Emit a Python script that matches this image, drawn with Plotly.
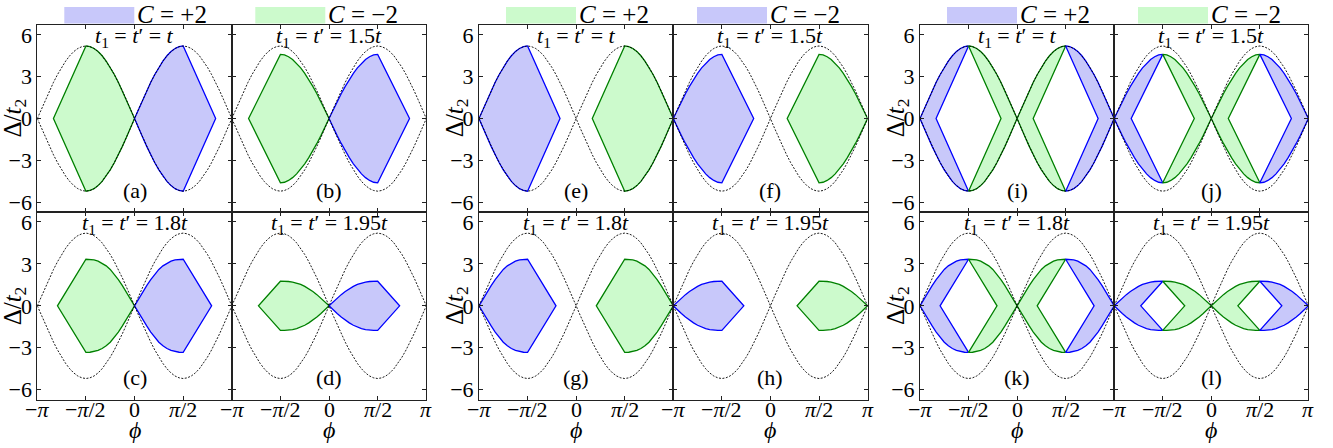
import numpy as np
import plotly.graph_objects as go

# boundary heights Delta/t2 at phi = k*pi/24, k = 0..12 (one quarter period)
dashed_profile = [0.0, 0.68, 1.34, 1.99, 2.60, 3.16, 3.67, 4.12, 4.50, 4.80, 5.02, 5.15, 5.20]
profile_t100 = [0.0, 0.68, 1.34, 1.99, 2.60, 3.16, 3.67, 4.12, 4.50, 4.80, 5.02, 5.15, 5.20]
profile_t150 = [0.0, 0.62, 1.22, 1.78, 2.31, 2.80, 3.24, 3.63, 3.96, 4.23, 4.43, 4.56, 4.60]
profile_t180 = [0.0, 0.50, 0.98, 1.44, 1.88, 2.27, 2.60, 2.86, 3.05, 3.19, 3.28, 3.32, 3.33]
profile_t195 = [0.0, 0.28, 0.55, 0.80, 1.02, 1.22, 1.39, 1.53, 1.63, 1.70, 1.74, 1.76, 1.76]

hopping_labels = ["t", "1.5t", "1.8t", "1.95t"]
profiles = [profile_t100, profile_t150, profile_t180, profile_t195]
# where the straight edges meet Delta = 0, measured from the curved tip
far_span = [2.62, 2.60, 2.49, 2.28]
near_span = [0.52, 0.55, 0.65, 0.86]

panel_letters = [["a", "b", "c", "d"], ["e", "f", "g", "h"], ["i", "j", "k", "l"]]
legend_items = [[("blue", "+2"), ("green", "−2")],
                [("green", "+2"), ("blue", "−2")],
                [("blue", "+2"), ("green", "−2")]]

phi_ticks = [-np.pi, -np.pi / 2, 0, np.pi / 2, np.pi]
phi_ticktext = ["−<i>π</i>", "−<i>π</i>/2", "0", "<i>π</i>/2", "<i>π</i>"]
delta_ticks = [-6, -3, 0, 3, 6]
delta_ticktext = ["−6", "−3", "0", "3", "6"]

LINE = {"blue": "#0000ff", "green": "#008000"}
FILL = {"blue": "#c8c8fa", "green": "#ccfacc"}
FONT = "Liberation Serif, Times New Roman, serif"

W, H = 1333, 448
group_x = [[37.3, 231.8, 426.3], [479.0, 673.3, 867.6], [920.0, 1114.2, 1308.4]]
row_y = [23.3, 212.5, 402.0]

# (colour, tip x0, direction, which span) for each group
group_regions = [
    [("green", 0.0, -1, "far"), ("blue", 0.0, 1, "far")],
    [("blue", -np.pi, 1, "far"), ("green", np.pi, -1, "far")],
    [("blue", -np.pi, 1, "near"), ("green", 0.0, -1, "near"),
     ("green", 0.0, 1, "near"), ("blue", np.pi, -1, "near")],
]

phi_q = np.arange(13) * np.pi / 24


def region(profile, x0, d, vertex):
    c = np.array(profile)
    x = x0 + d * phi_q
    xs = np.concatenate([x, [vertex], x[::-1]])
    ys = np.concatenate([c, [0.0], -c[::-1]])
    return xs, ys


dp = np.array(dashed_profile)
env_x = np.concatenate([-np.pi + phi_q, -np.pi / 2 + phi_q[1:], phi_q[1:], np.pi / 2 + phi_q[1:]])
env_y = np.concatenate([dp, dp[::-1][1:], dp[1:], dp[::-1][1:]])

fig = go.Figure()
layout = {}
annotations = []
shapes = []

for g in range(3):
    for r in range(2):
        for c in range(2):
            k = r * 2 + c
            n = g * 4 + k + 1
            xref = "x" if n == 1 else f"x{n}"
            yref = "y" if n == 1 else f"y{n}"
            prof = profiles[k]

            for colour, x0, d, which in group_regions[g]:
                span = far_span[k] if which == "far" else near_span[k]
                xs, ys = region(prof, x0, d, x0 + d * span)
                fig.add_trace(go.Scatter(
                    x=xs, y=ys, mode="lines", fill="toself",
                    fillcolor=FILL[colour], line=dict(color=LINE[colour], width=1.3),
                    xaxis=xref, yaxis=yref, showlegend=False, hoverinfo="skip"))

            for sign in (1, -1):
                fig.add_trace(go.Scatter(
                    x=env_x, y=sign * env_y, mode="lines",
                    line=dict(color="black", width=0.9, dash="2px,1.5px"),
                    xaxis=xref, yaxis=yref, showlegend=False, hoverinfo="skip"))

            x_dom = [group_x[g][c] / W, group_x[g][c + 1] / W]
            y_dom = [1 - row_y[r + 1] / H, 1 - row_y[r] / H]
            xkey = "xaxis" if n == 1 else f"xaxis{n}"
            ykey = "yaxis" if n == 1 else f"yaxis{n}"
            layout[xkey] = dict(
                domain=x_dom, range=[-np.pi, np.pi], anchor=yref,
                tickvals=phi_ticks, showticklabels=False,
                ticks="inside", ticklen=4, tickcolor="#222", mirror="ticks",
                showline=True, linecolor="#222", linewidth=1,
                showgrid=False, zeroline=False)
            layout[ykey] = dict(
                domain=y_dom, range=[-6.7, 6.7], anchor=xref,
                tickvals=delta_ticks, ticktext=delta_ticktext, showticklabels=(c == 0),
                ticks="inside", ticklen=4, tickcolor="#222", mirror="ticks",
                showline=True, linecolor="#222", linewidth=1,
                showgrid=False, zeroline=False,
                tickfont=dict(family=FONT, size=22, color="black"))

            hop = hopping_labels[k].replace("t", "<i>t</i>")
            annotations.append(dict(
                x=0, y=5.85, xref=xref, yref=yref, showarrow=False,
                text=f"<i>t</i><sub>1</sub> = <i>t</i>′ = {hop}",
                font=dict(family=FONT, size=22, color="black"),
                xanchor="center", yanchor="middle"))
            annotations.append(dict(
                x=0, y=-5.15, xref=xref, yref=yref, showarrow=False,
                text=f"({panel_letters[g][k]})",
                font=dict(family=FONT, size=22, color="black"),
                xanchor="center", yanchor="middle"))
            if r == 1:
                # phi tick labels, drawn close under the axis
                for j, (tv, tt) in enumerate(zip(phi_ticks, phi_ticktext)):
                    if c == 0 and j == len(phi_ticks) - 1:
                        continue
                    annotations.append(dict(
                        x=tv, y=1 - 412 / H, xref=xref, yref="paper", showarrow=False,
                        text=tt, font=dict(family=FONT, size=22, color="black"),
                        xanchor="center", yanchor="middle"))
                annotations.append(dict(
                    x=(group_x[g][c] + group_x[g][c + 1]) / 2 / W, y=1 - 433 / H,
                    xref="paper", yref="paper", showarrow=False, text="<i>ϕ</i>",
                    font=dict(family=FONT, size=24, color="black"),
                    xanchor="center", yanchor="middle"))

    # y axis titles, one per row
    for yc in (117.5, 307.5):
        annotations.append(dict(
            x=(group_x[g][0] - 23) / W, y=1 - yc / H, xref="paper", yref="paper",
            showarrow=False, text="Δ/<i>t</i><sub>2</sub>", textangle=-90,
            font=dict(family=FONT, size=25, color="black"),
            xanchor="center", yanchor="middle"))

    # legend patches above each group
    left = group_x[g][0]
    for i, (colour, lab) in enumerate(legend_items[g]):
        x_a = left + 27 + i * 191
        shapes.append(dict(type="rect", xref="paper", yref="paper",
                           x0=x_a / W, x1=(x_a + 70) / W, y0=1 - 21.7 / H, y1=1 - 5 / H,
                           fillcolor=FILL[colour], line=dict(width=0)))
        annotations.append(dict(
            x=(x_a + 71) / W, y=1 - 12.5 / H, xref="paper", yref="paper",
            showarrow=False, text=f"<i>C</i> = {lab}",
            font=dict(family=FONT, size=25, color="black"),
            xanchor="left", yanchor="middle"))

fig.update_layout(
    width=W, height=H, autosize=False,
    margin=dict(l=0, r=0, t=0, b=0),
    paper_bgcolor="white", plot_bgcolor="white",
    annotations=annotations, shapes=shapes,
    **layout)

fig.write_html("out.html", config={"displayModeBar": False},
               post_script="document.body.style.margin='0px';")
